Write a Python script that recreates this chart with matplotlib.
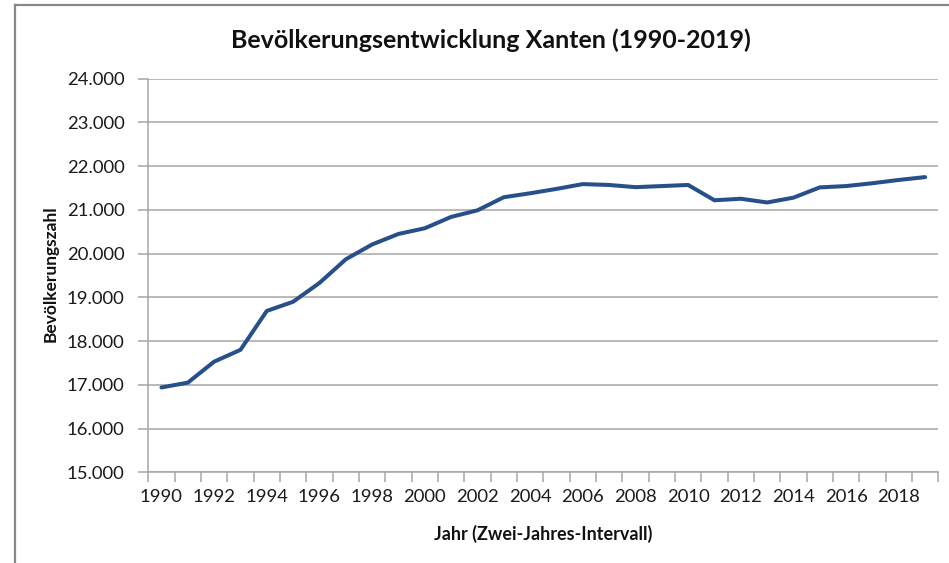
import matplotlib
matplotlib.use("Agg")
import matplotlib.pyplot as plt
from matplotlib.lines import Line2D
import numpy as np

# data
years = list(range(1990, 2020))
einwohner = [16940, 17050, 17530, 17800, 18690, 18900, 19330, 19870, 20210, 20450,
             20580, 20840, 20990, 21290, 21380, 21480, 21590, 21570, 21520, 21545,
             21570, 21220, 21255, 21170, 21280, 21515, 21545, 21610, 21685, 21750]
ytick_vals = list(range(15000, 25000, 1000))
ytick_labels = [f"{v:,}".replace(",", ".") for v in ytick_vals]

plt.rcParams['font.family'] = ['Lato', 'DejaVu Sans']
W, H = 949, 563
fig = plt.figure(figsize=(W / 100, H / 100), dpi=100)

left, right, top, bottom = 148.3, 938.3, 78.7, 472.3
ax = fig.add_axes([left / W, 1 - bottom / H, (right - left) / W, (bottom - top) / H])

grid_c = '#A6A6A6'
x = np.arange(len(years))
ax.plot(x, einwohner, color='#27508A', lw=2.9, solid_capstyle='round', solid_joinstyle='round', zorder=3)

ax.set_xlim(-0.5, len(years) - 0.5)
ax.set_ylim(15000, 24000)
ax.set_yticks(ytick_vals)
ax.set_yticklabels(ytick_labels)
ax.yaxis.grid(True, color=grid_c, lw=1.1)
ax.set_axisbelow(True)

# category axis: tick marks between categories, labels every second year
ax.set_xticks(x[::2])
ax.set_xticklabels([str(y) for y in years[::2]])
ax.set_xticks(np.arange(-0.5, len(years)), minor=True)
ax.tick_params(axis='x', which='major', length=0, pad=12)
ax.tick_params(axis='x', which='minor', length=7, width=1.1, color=grid_c)
ax.tick_params(axis='y', length=7, width=1.1, color=grid_c, pad=10)
ax.tick_params(labelsize=13.3, labelcolor='#1a1a1a')

for s in ['top', 'right']:
    ax.spines[s].set_visible(False)
for s in ['left', 'bottom']:
    ax.spines[s].set_color(grid_c)
    ax.spines[s].set_linewidth(1.1)

fig.text(491 / W, 1 - 40 / H, 'Bevölkerungsentwicklung Xanten (1990-2019)',
         ha='center', va='center', fontsize=18, fontweight='bold', color='#111111')
fig.text(543 / W, 1 - 534 / H, 'Jahr (Zwei-Jahres-Intervall)',
         ha='center', va='center', fontsize=13, fontweight='bold', color='#111111')
fig.text(51 / W, 1 - 274 / H, 'Bevölkerungszahl', rotation=90,
         ha='center', va='center', fontsize=12.5, fontweight='bold', color='#111111')

# chart area border (only top and left visible in the crop)
fig.add_artist(Line2D([15 / W, 15 / W], [0, 1 - 5 / H], transform=fig.transFigure, color='#888888', lw=1.6))
fig.add_artist(Line2D([15 / W, 1], [1 - 5 / H, 1 - 5 / H], transform=fig.transFigure, color='#888888', lw=1.6))

fig.savefig('out.png', dpi=100)
